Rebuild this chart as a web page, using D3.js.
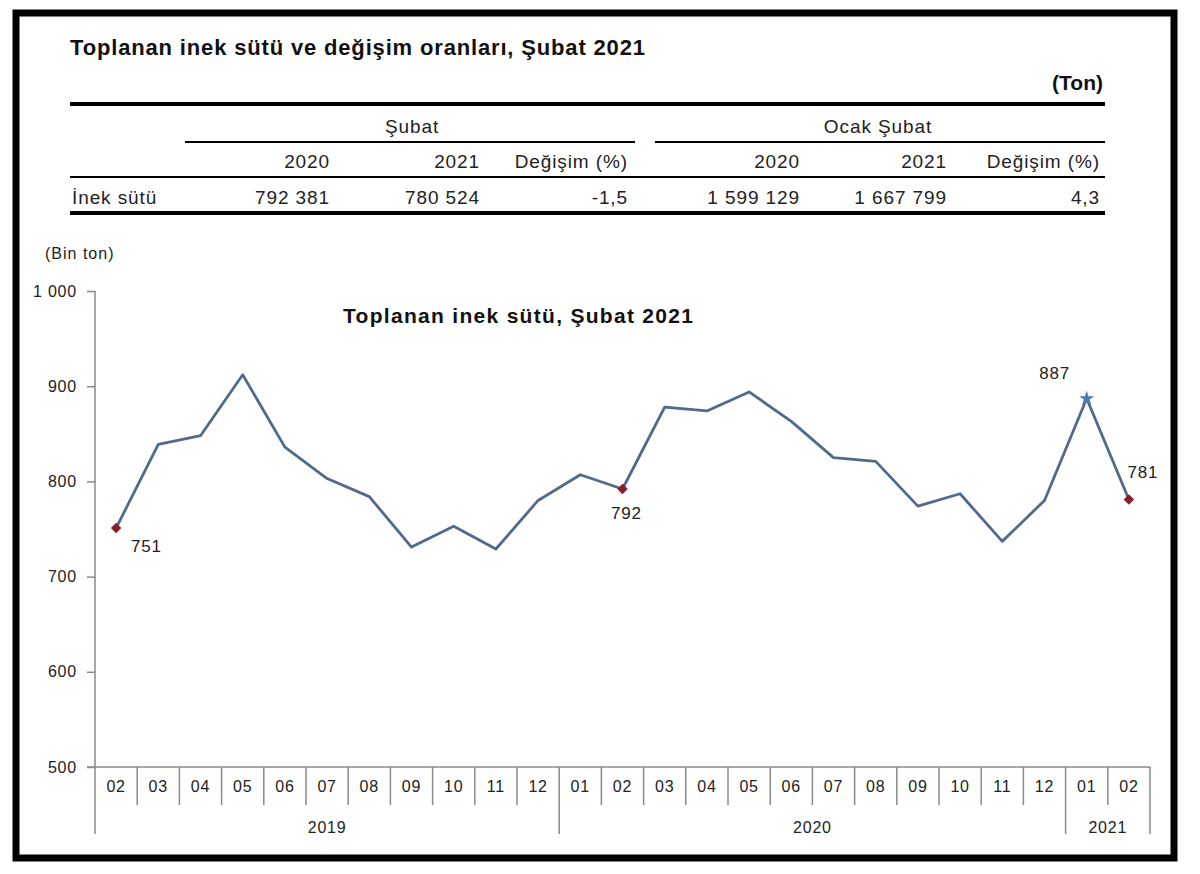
<!DOCTYPE html>
<html>
<head>
<meta charset="utf-8">
<script src="https://cdn.jsdelivr.net/npm/d3@7"></script>
<style>
  body { margin: 0; background: #fff; }
  svg { display: block; font-family: "Liberation Sans", Arial, sans-serif; }
  .axis text { font-size: 16px; fill: #222; letter-spacing: 0.8px; }
  .axis path, .axis line { stroke: #8a8a8a; stroke-width: 1.5; }
</style>
</head>
<body>
<div id="chart"></div>
<script>

// table data
let tableTitle = "Toplanan inek sütü ve değişim oranları, Şubat 2021";
let tableUnit = "(Ton)";
let tableGroups = ["Şubat", "Ocak Şubat"];
let tableHeaders = ["2020", "2021", "Değişim (%)", "2020", "2021", "Değişim (%)"];
let rowLabel = "İnek sütü";
let rowValues = ["792 381", "780 524", "-1,5", "1 599 129", "1 667 799", "4,3"];

// chart data
let chartTitle = "Toplanan inek sütü, Şubat 2021";
let unitLabel = "(Bin ton)";
let months = ["02", "03", "04", "05", "06", "07", "08", "09", "10", "11", "12",
    "01", "02", "03", "04", "05", "06", "07", "08", "09", "10", "11", "12",
    "01", "02"];
let years = ["2019", "2019", "2019", "2019", "2019", "2019", "2019", "2019", "2019", "2019", "2019",
    "2020", "2020", "2020", "2020", "2020", "2020", "2020", "2020", "2020", "2020", "2020", "2020",
    "2021", "2021"];
let values = [751, 839, 848, 912, 836, 803, 784, 731, 753, 729, 780,
    807, 792, 878, 874, 894, 863, 825, 821, 774, 787, 737, 780,
    887, 781];
let yTicks = [500, 600, 700, 800, 900, 1000];

let width = 1200;
let height = 874;

let svg = d3.select("#chart")
    .append("svg")
    .attr("width", width)
    .attr("height", height);

// outer frame
svg.append("rect")
    .attr("x", 16).attr("y", 13)
    .attr("width", 1158).attr("height", 845)
    .attr("fill", "none")
    .attr("stroke", "#000")
    .attr("stroke-width", 7);

/* Table */
svg.append("text")
    .attr("x", 70).attr("y", 55)
    .attr("font-size", 22).attr("font-weight", "bold").attr("fill", "#111")
    .attr("textLength", 575).attr("lengthAdjust", "spacing")
    .text(tableTitle);

svg.append("text")
    .attr("x", 1103).attr("y", 90)
    .attr("text-anchor", "end")
    .attr("font-size", 21).attr("font-weight", "bold").attr("fill", "#111")
    .text(tableUnit);

let rules = [
    { x1: 70, x2: 1105, y: 104, w: 4 },
    { x1: 185, x2: 635, y: 142, w: 2 },
    { x1: 655, x2: 1105, y: 142, w: 2 },
    { x1: 70, x2: 1105, y: 177, w: 2 },
    { x1: 70, x2: 1105, y: 213, w: 4 }
];
svg.selectAll(".rule")
    .data(rules)
    .enter().append("line")
    .attr("class", "rule")
    .attr("x1", d => d.x1).attr("x2", d => d.x2)
    .attr("y1", d => d.y).attr("y2", d => d.y)
    .attr("stroke", "#000").attr("stroke-width", d => d.w);

let cellStyle = sel => sel
    .attr("font-size", 19)
    .attr("letter-spacing", 0.9)
    .attr("fill", "#222");

let groupCenters = [412, 878];
svg.selectAll(".grp")
    .data(tableGroups)
    .enter().append("text")
    .attr("class", "grp")
    .attr("x", (d, i) => groupCenters[i]).attr("y", 133)
    .attr("text-anchor", "middle")
    .call(cellStyle)
    .text(d => d);

let colRight = [330, 480, 628, 800, 947, 1100];
svg.selectAll(".hdr")
    .data(tableHeaders)
    .enter().append("text")
    .attr("class", "hdr")
    .attr("x", (d, i) => colRight[i]).attr("y", 168)
    .attr("text-anchor", "end")
    .call(cellStyle)
    .text(d => d);

svg.append("text")
    .attr("x", 72).attr("y", 204)
    .call(cellStyle)
    .text(rowLabel);

svg.selectAll(".val")
    .data(rowValues)
    .enter().append("text")
    .attr("class", "val")
    .attr("x", (d, i) => colRight[i]).attr("y", 204)
    .attr("text-anchor", "end")
    .call(cellStyle)
    .text(d => d);

/* Chart */
let plotLeft = 95, plotRight = 1150, plotTop = 291, plotBottom = 767;

let keys = months.map((m, i) => i);

let xScale = d3.scaleBand()
    .domain(keys)
    .range([plotLeft, plotRight])
    .padding(0);

let yScale = d3.scaleLinear()
    .domain([500, 1000])
    .range([plotBottom, plotTop]);

svg.append("text")
    .attr("x", 45).attr("y", 259)
    .attr("font-size", 16).attr("letter-spacing", 1).attr("fill", "#222")
    .text(unitLabel);

svg.append("text")
    .attr("x", 343).attr("y", 323)
    .attr("font-size", 21).attr("font-weight", "bold").attr("fill", "#111")
    .attr("textLength", 350).attr("lengthAdjust", "spacing")
    .text(chartTitle);

// y axis
let yAxis = d3.axisLeft()
    .scale(yScale)
    .tickValues(yTicks)
    .tickSize(8)
    .tickPadding(10)
    .tickFormat(d => d >= 1000 ? d3.format(",")(d).replace(",", " ") : d);

svg.append("g")
    .attr("class", "axis")
    .attr("transform", "translate(" + plotLeft + ",0)")
    .call(yAxis)
    .call(g => g.select(".domain").attr("d", "M0," + plotTop + "V" + plotBottom));

// x axis: month labels
let xAxis = d3.axisBottom()
    .scale(xScale)
    .tickSize(0)
    .tickPadding(14)
    .tickFormat(i => months[i]);

svg.append("g")
    .attr("class", "axis")
    .attr("transform", "translate(0," + plotBottom + ")")
    .call(xAxis)
    .call(g => g.select(".domain").attr("d", "M" + (plotLeft - 8) + ",0H" + plotRight));

// category separators
let seps = d3.range(keys.length + 1);
svg.selectAll(".sep")
    .data(seps)
    .enter().append("line")
    .attr("class", "sep")
    .attr("x1", i => i < keys.length ? xScale(i) : plotRight)
    .attr("x2", i => i < keys.length ? xScale(i) : plotRight)
    .attr("y1", plotBottom)
    .attr("y2", i => (i === 0 || i === keys.length || years[i] !== years[i - 1]) ? plotBottom + 67 : plotBottom + 38)
    .attr("stroke", "#8a8a8a")
    .attr("stroke-width", 1.5);

// year labels
let yearGroups = d3.groups(keys, i => years[i]);
svg.selectAll(".year")
    .data(yearGroups)
    .enter().append("text")
    .attr("class", "year")
    .attr("x", d => {
        let first = d[1][0], last = d[1][d[1].length - 1];
        return (xScale(first) + xScale(last) + xScale.bandwidth()) / 2;
    })
    .attr("y", plotBottom + 66)
    .attr("text-anchor", "middle")
    .attr("font-size", 16).attr("letter-spacing", 0.8).attr("fill", "#222")
    .text(d => d[0]);

// line
let line = d3.line()
    .x(i => xScale(i) + xScale.bandwidth() / 2)
    .y(i => yScale(values[i]));

svg.append("path")
    .datum(keys)
    .attr("d", line)
    .attr("fill", "none")
    .attr("stroke", "#4f6a8c")
    .attr("stroke-width", 2.8)
    .attr("stroke-linejoin", "round");

// highlighted points
let marked = [
    { i: 0, shape: d3.symbolSquare, rot: 45, size: 55, color: "#8b1c2c", dx: 15, dy: 24, anchor: "start" },
    { i: 12, shape: d3.symbolSquare, rot: 45, size: 55, color: "#8b1c2c", dx: 4, dy: 30, anchor: "middle" },
    { i: 23, shape: d3.symbolStar, rot: 0, size: 70, color: "#4a78b8", dx: -32, dy: -20, anchor: "middle" },
    { i: 24, shape: d3.symbolSquare, rot: 45, size: 55, color: "#8b1c2c", dx: 14, dy: -21, anchor: "middle" }
];

svg.selectAll(".mark")
    .data(marked)
    .enter().append("path")
    .attr("class", "mark")
    .attr("d", d => d3.symbol().type(d.shape).size(d.size)())
    .attr("transform", d => "translate(" + (xScale(d.i) + xScale.bandwidth() / 2) + "," + yScale(values[d.i]) + ") rotate(" + d.rot + ")")
    .attr("fill", d => d.color);

svg.selectAll(".lbl")
    .data(marked)
    .enter().append("text")
    .attr("class", "lbl")
    .attr("x", d => xScale(d.i) + xScale.bandwidth() / 2 + d.dx)
    .attr("y", d => yScale(values[d.i]) + d.dy)
    .attr("text-anchor", d => d.anchor)
    .attr("font-size", 17).attr("letter-spacing", 0.8).attr("fill", "#222")
    .text(d => values[d.i]);

</script>
</body>
</html>
